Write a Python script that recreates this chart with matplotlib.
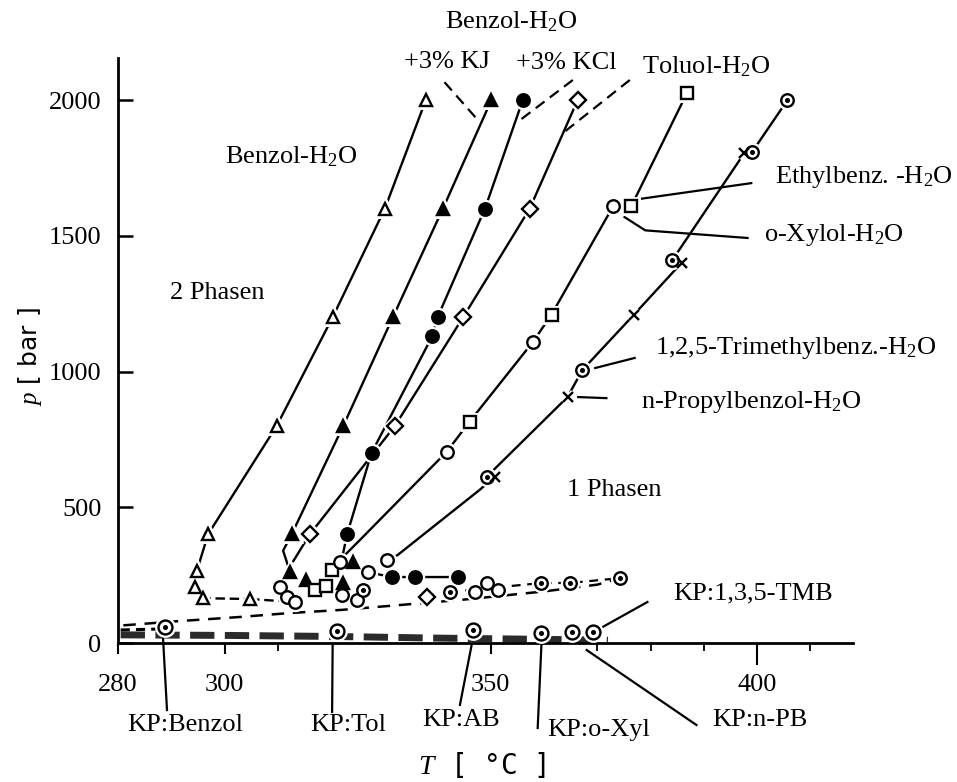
import matplotlib
matplotlib.use('Agg')
import matplotlib.pyplot as plt

plt.rcParams['font.family'] = 'Liberation Serif'
plt.rcParams['mathtext.fontset'] = 'custom'
plt.rcParams['mathtext.rm'] = 'Liberation Serif'
plt.rcParams['mathtext.it'] = 'Liberation Serif:italic'

# upper branches of the critical curves (T in degC, p in bar)
benzol_T = [337.8, 330.1, 320.3, 309.8, 296.9, 294.8, 294.4, 296.0, 304.8]
benzol_p = [2000, 1600, 1200, 800, 400, 265, 205, 165, 162]

kj_T = [350.1, 341.0, 331.6, 322.3, 312.6, 312.3]
kj_p = [2000, 1600, 1200, 800, 400, 262]
kj_low_T = [315.3, 322.2, 324.1]
kj_low_p = [232, 221, 298]

kcl_T = [356.0, 348.9, 340.0, 339.0, 327.6, 323.0]
kcl_p = [2000, 1600, 1200, 1130, 700, 400]
kcl_low_T = [331.4, 335.7, 343.8]
kcl_low_p = [243, 243, 243]

toluol_T = [366.3, 357.3, 344.8, 332.0, 316.0]
toluol_p = [2000, 1600, 1200, 800, 400]
toluol_low_T = [338.0]
toluol_low_p = [170]

ethylb_T = [386.8, 376.4, 361.4, 346.0]
ethylb_p = [2025, 1610, 1210, 815]
ethylb_low_T = [317.0, 319.0, 320.2]
ethylb_low_p = [195, 210, 269]

oxylol_T = [373.0, 357.9, 341.7, 330.5, 326.9]
oxylol_p = [1610, 1109, 704, 306, 261]
oxylol_low_T = [321.7, 322.0, 324.8, 310.4, 311.7, 313.2, 347.0, 349.2, 351.3]
oxylol_low_p = [298, 177, 158, 206, 169, 151, 188, 221, 195]

tmb_T = [405.7, 399.1, 384.1, 367.2, 349.2]
tmb_p = [2000, 1810, 1411, 1006, 612]
tmb_low_T = [326.0, 342.3, 359.5, 364.8, 374.2]
tmb_low_p = [195, 188, 221, 221, 239]

npb_T = [397.6, 385.8, 376.8, 364.4, 350.7]
npb_p = [1805, 1400, 1208, 906, 612]

# where the curves run on below the last drawn point
kj_tail_T, kj_tail_p = [312.6, 311.0, 312.3], [400, 340, 262]
kcl_tail_T, kcl_tail_p = [323.0, 322.0], [400, 305]
kcl_flat_T, kcl_flat_p = [326.9, 331.4, 335.7, 343.8], [261, 243, 243, 243]
toluol_tail_T, toluol_tail_p = [316.0, 312.8], [400, 298]
eb_tail_T, eb_tail_p = [325.4, 322.6], [379, 324]
tmb_tail_T, tmb_tail_p = [347.9, 339.1, 332.5, 330.5], [564, 427, 324, 306]

# dashed three-phase / critical lines near the T axis
lineB_T = [281, 291, 303, 312, 322, 333, 345, 360, 370, 374.2]
lineB_p = [65, 80, 96, 110, 122, 140, 160, 190, 215, 239]
lineD_T = [280.5, 300, 321, 340, 366, 372]
lineD_p = [30, 28, 24, 18, 12, 10]
lineS_T = [280.5, 288.9]
lineS_p = [48, 52]

# critical points of the pure hydrocarbons
kp_T = [288.9, 321.1, 346.6, 359.5, 365.2, 369.1]
kp_p = [60, 45, 48, 37, 40, 40]

fig = plt.figure(figsize=(9.57, 7.82), dpi=100)
ax = fig.add_axes([118 / 957, 139 / 782, 735 / 957, 585 / 782])
ax.set_xlim(280, 418)
ax.set_ylim(0, 2155)

LW = 1.7


def curve(T, p, ls='-', lw=LW, z=2):
    ax.plot(T, p, color='black', lw=lw, ls=ls, zorder=z, solid_capstyle='butt')


def marks(T, p, marker, face='white', ms=9, dot=False):
    # white halo first so the lines stop short of each symbol
    ax.plot(T, p, ls='none', marker=marker, ms=ms, mfc='white', mec='white',
            mew=5, zorder=3)
    ax.plot(T, p, ls='none', marker=marker, ms=ms, mfc=face, mec='black',
            mew=1.7, zorder=4)
    if dot:
        ax.plot(T, p, ls='none', marker='o', ms=2.6, color='black', zorder=5)


# curves
curve(benzol_T[:6], benzol_p[:6])
curve(benzol_T[5:], benzol_p[5:], ls=(0, (4, 2)))
curve(benzol_T[8:] + [313.2], benzol_p[8:] + [151], ls=(0, (4, 2)))
curve(kj_T[:5], kj_p[:5])
curve(kj_tail_T, kj_tail_p)
curve(kcl_T, kcl_p)
curve(kcl_tail_T, kcl_tail_p)
curve(kcl_flat_T, kcl_flat_p)
curve(toluol_T, toluol_p)
curve(toluol_tail_T, toluol_tail_p)

# ethylbenzene and o-xylene share one curve
eb_line = sorted([(t, p, 0) for t, p in zip(ethylb_T, ethylb_p)] +
                 [(t, p, 1) for t, p in zip(oxylol_T[:3], oxylol_p[:3])],
                 key=lambda r: (-r[1], r[2]))
curve([r[0] for r in eb_line] + eb_tail_T, [r[1] for r in eb_line] + eb_tail_p)

# so do trimethylbenzene and n-propylbenzene
tmb_line = sorted(list(zip(tmb_T, tmb_p)) + list(zip(npb_T, npb_p)), key=lambda r: -r[1])
curve([r[0] for r in tmb_line] + tmb_tail_T, [r[1] for r in tmb_line] + tmb_tail_p)

curve(lineB_T, lineB_p, ls=(0, (5, 3.5)), lw=1.8, z=1)
curve(tmb_low_T[1:], tmb_low_p[1:], ls=(0, (4, 3)), lw=1.6, z=1)
ax.plot(lineD_T, lineD_p, color='#2b2b2b', lw=5, ls=(0, (3.5, 1.5)), zorder=1,
        solid_capstyle='butt')
curve(lineS_T, lineS_p, ls=(0, (3, 2)), lw=2.2, z=1)

# symbols
marks(benzol_T, benzol_p, '^')
marks(kj_T, kj_p, '^', face='black')
marks(kj_low_T, kj_low_p, '^', face='black')
marks(kcl_T, kcl_p, 'o', face='black')
marks(kcl_low_T, kcl_low_p, 'o', face='black')
marks(toluol_T, toluol_p, 'D', ms=8)
marks(toluol_low_T, toluol_low_p, 'D', ms=8)
marks(ethylb_T, ethylb_p, 's', ms=8.5)
marks(ethylb_low_T, ethylb_low_p, 's', ms=8.5)
marks(oxylol_T, oxylol_p, 'o')
marks(oxylol_low_T, oxylol_low_p, 'o')
marks(tmb_T, tmb_p, 'o', dot=True)
marks(tmb_low_T, tmb_low_p, 'o', dot=True)
marks(npb_T, npb_p, 'x', ms=7)
marks(kp_T, kp_p, 'o', ms=10, dot=True)

# axes
for s in ('top', 'right'):
    ax.spines[s].set_visible(False)
for s in ('left', 'bottom'):
    ax.spines[s].set_linewidth(2)

ax.set_yticks([0, 500, 1000, 1500, 2000])
ax.set_xticks([280, 300, 350, 400])
ax.set_xticks([310, 370, 380, 390, 410], minor=True)
ax.tick_params(axis='y', direction='in', length=11, width=1.8, pad=12,
               labelsize=19)
ax.tick_params(axis='x', which='major', direction='out', length=8, width=1.5,
               pad=14, labelsize=19)
ax.tick_params(axis='x', which='minor', direction='out', length=6, width=1.3)
ax.xaxis.get_major_ticks()[3].tick1line.set_markersize(16)

fig.text(30 / 957, 1 - 357 / 782, r'$\mathit{p}$ [ bar ]', rotation=90,
         ha='center', va='center', fontsize=18, family='DejaVu Sans')
fig.text(482 / 957, 1 - 765 / 782, r'$\mathit{T}$ [ °C ]', ha='center',
         va='center', fontsize=20, family='DejaVu Sans Mono')


def label(T, p, s, ha='center'):
    ax.text(T, p, s, fontsize=19, ha=ha, va='center', clip_on=False)


def pointer(T, p, ls='-'):
    ax.plot(T, p, color='black', lw=1.6, ls=ls, clip_on=False, zorder=2)


label(353.9, 2287, r'Benzol-H$_2$O')
label(341.7, 2140, '+3% KJ')
label(364.1, 2136, '+3% KCl')
label(390.5, 2122, r'Toluol-H$_2$O')
label(312.6, 1790, r'Benzol-H$_2$O')
label(298.6, 1289, '2 Phasen')
label(373.2, 564, '1 Phasen')
label(420.0, 1716, r'Ethylbenz. -H$_2$O')
label(414.5, 1503, r'o-Xylol-H$_2$O')
label(407.2, 1087, r'1,2,5-Trimethylbenz.-H$_2$O')
label(398.9, 888, r'n-Propylbenzol-H$_2$O')
label(399.3, 184, 'KP:1,3,5-TMB')
label(292.6, -302, 'KP:Benzol')
label(323.2, -302, 'KP:Tol')
label(344.4, -284, 'KP:AB')
label(370.2, -320, 'KP:o-Xyl')
label(400.6, -284, 'KP:n-PB')

pointer([341.3, 347.9], [2066, 1919], ls=(0, (5, 3)))
pointer([365.4, 355.0], [2074, 1919], ls=(0, (5, 3)))
pointer([376.1, 363.5], [2074, 1878], ls=(0, (5, 3)))
pointer([398.9, 376.6], [1694, 1632])
pointer([398.2, 379.0, 375.1], [1492, 1520, 1569])
pointer([377.0, 369.6], [1050, 1013])
pointer([371.7, 366.4], [902, 906])
pointer([379.4, 371.0], [151, 59])
pointer([288.4, 289.2], [37, -247])
pointer([320.3, 320.2], [-7, -254])
pointer([346.4, 344.2], [-7, -228])
pointer([359.5, 358.8], [-7, -313])
pointer([368.0, 388.6], [-26, -302])

fig.savefig('out.png', dpi=100)
